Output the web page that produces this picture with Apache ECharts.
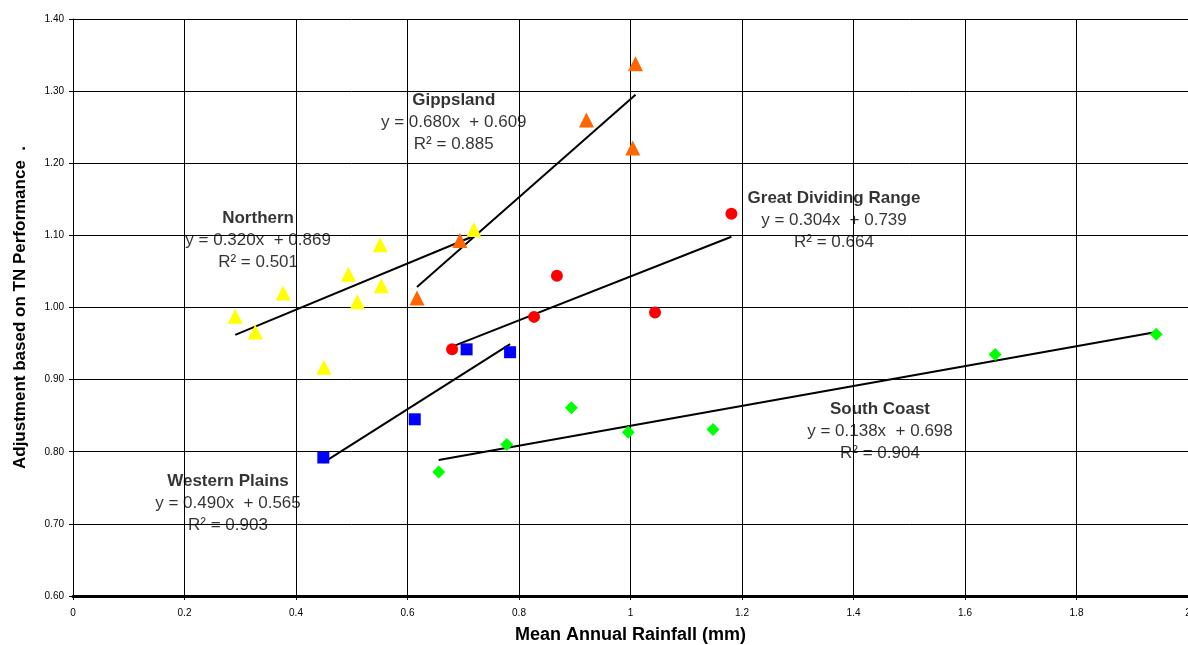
<!DOCTYPE html>
<html>
<head>
<meta charset="utf-8">
<title>Adjustment vs Mean Annual Rainfall</title>
<script src="https://cdn.jsdelivr.net/npm/echarts@6/dist/echarts.min.js"></script>
<style>
  html, body { margin: 0; padding: 0; background: #fff; overflow: hidden; }
  #chart { width: 1188px; height: 645px; }
</style>
</head>
<body>
<div id="chart"></div>
<script>
// Regions and their (rainfall, adjustment) observations
const regionNames = ['Northern', 'Gippsland', 'Great Dividing Range', 'Western Plains', 'South Coast'];

const northernX = [0.291, 0.327, 0.377, 0.450, 0.494, 0.510, 0.551, 0.553, 0.719];
const northernY = [0.988, 0.966, 1.020, 0.917, 1.046, 1.008, 1.087, 1.030, 1.108];

const gippslandX = [0.617, 0.694, 0.921, 1.004, 1.009];
const gippslandY = [1.013, 1.093, 1.260, 1.221, 1.338];

const gdrX = [0.680, 0.827, 0.868, 1.044, 1.181];
const gdrY = [0.942, 0.987, 1.044, 0.993, 1.130];

const westernX = [0.449, 0.613, 0.706, 0.784];
const westernY = [0.792, 0.845, 0.942, 0.938];

const southX = [0.656, 0.778, 0.894, 0.996, 1.148, 1.654, 1.943];
const southY = [0.772, 0.810, 0.861, 0.827, 0.831, 0.935, 0.963];

// Linear trend fits: slope, intercept, R²
const trendSlope = [0.320, 0.680, 0.304, 0.490, 0.138];
const trendIntercept = [0.869, 0.609, 0.739, 0.565, 0.698];
const trendR2 = [0.501, 0.885, 0.664, 0.903, 0.904];

// Axis ticks
const xTicks = [0, 0.2, 0.4, 0.6, 0.8, 1, 1.2, 1.4, 1.6, 1.8, 2];
const yTicks = [0.60, 0.70, 0.80, 0.90, 1.00, 1.10, 1.20, 1.30, 1.40];

const seriesX = [northernX, gippslandX, gdrX, westernX, southX];
const seriesY = [northernY, gippslandY, gdrY, westernY, southY];

// Marker styling per region
const markerColor = ['#FFFF00', '#FF6600', '#FF0000', '#0000FF', '#00FF00'];
const markerShape = ['triangle', 'triangle', 'circle', 'rect', 'diamond'];
const markerSize = [15, 15, 12, 12, 13];

// Where each equation block sits (data coordinates of its centre)
const labelAnchor = [[0.332, 1.093], [0.683, 1.257], [1.365, 1.121], [0.278, 0.728], [1.4475, 0.828]];

const FONT = '"Liberation Sans", Arial, Helvetica, sans-serif';

function zip(xs, ys) { return xs.map((x, i) => [x, ys[i]]); }

const series = [];

// Trend lines span each region's observed rainfall range
seriesX.forEach((xs, i) => {
  const lo = Math.min(...xs), hi = Math.max(...xs);
  series.push({
    type: 'line',
    name: regionNames[i] + ' trend',
    data: [[lo, trendSlope[i] * lo + trendIntercept[i]], [hi, trendSlope[i] * hi + trendIntercept[i]]],
    showSymbol: false,
    symbol: 'none',
    silent: true,
    lineStyle: { color: '#000', width: 2 },
    z: 3
  });
});

// Observations
seriesX.forEach((xs, i) => {
  series.push({
    type: 'scatter',
    name: regionNames[i],
    data: zip(xs, seriesY[i]),
    symbol: markerShape[i],
    symbolSize: markerSize[i],
    itemStyle: { color: markerColor[i], opacity: 1 },
    z: 4
  });
});

// Equation / R² text blocks
series.push({
  type: 'scatter',
  name: 'labels',
  symbolSize: 0,
  silent: true,
  z: 5,
  data: labelAnchor.map((p, i) => ({
    value: p,
    label: {
      show: true,
      position: 'inside',
      align: 'center',
      verticalAlign: 'middle',
      color: '#000',
      formatter: '{t|' + regionNames[i] + '}\n{e|y = ' + trendSlope[i].toFixed(3) + 'x  + ' +
                 trendIntercept[i].toFixed(3) + '}\n{e|R² = ' + trendR2[i].toFixed(3) + '}',
      rich: {
        t: { fontFamily: FONT, fontSize: 17, fontWeight: 'bold', color: '#000', lineHeight: 22, align: 'center' },
        e: { fontFamily: FONT, fontSize: 17, color: '#000', lineHeight: 22, align: 'center' }
      }
    }
  }))
});

const chart = echarts.init(document.getElementById('chart'), null, { renderer: 'canvas' });
chart.setOption({
  animation: false,
  backgroundColor: '#fff',
  grid: { left: 73, top: 19, right: 0, bottom: 49, containLabel: false, outerBoundsMode: 'none' },
  xAxis: {
    type: 'value',
    min: xTicks[0],
    max: xTicks[xTicks.length - 1],
    interval: 0.2,
    name: 'Mean Annual Rainfall (mm)',
    nameLocation: 'middle',
    nameGap: 30,
    nameTextStyle: { fontFamily: FONT, fontSize: 18, fontWeight: 'bold', color: '#000' },
    axisLine: { show: true, onZero: false, lineStyle: { color: '#000', width: 3 } },
    axisTick: { show: true, length: 4, lineStyle: { color: '#000', width: 1 } },
    axisLabel: {
      fontFamily: FONT, fontSize: 10, color: '#000', margin: 12,
      formatter: v => String(Math.round(v * 10) / 10)
    },
    splitLine: { show: true, lineStyle: { color: '#000', width: 1 } }
  },
  yAxis: {
    type: 'value',
    min: yTicks[0],
    max: yTicks[yTicks.length - 1],
    interval: 0.1,
    name: 'Adjustment based on TN Performance  .',
    nameLocation: 'middle',
    nameRotate: 90,
    nameGap: 44,
    nameTextStyle: { fontFamily: FONT, fontSize: 17, fontWeight: 'bold', color: '#000' },
    axisLine: { show: true, lineStyle: { color: '#000', width: 1 } },
    axisTick: { show: true, length: 4, lineStyle: { color: '#000', width: 1 } },
    axisLabel: {
      fontFamily: FONT, fontSize: 10, color: '#000', margin: 9,
      formatter: v => v.toFixed(2)
    },
    splitLine: { show: true, lineStyle: { color: '#000', width: 1 } }
  },
  series: series
});
</script>
</body>
</html>
